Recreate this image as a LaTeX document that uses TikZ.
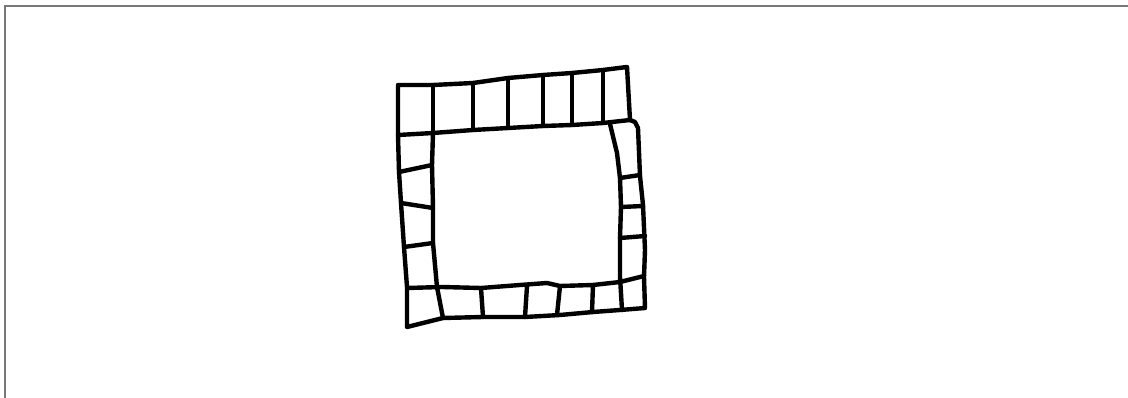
\documentclass[tikz,border=0pt]{standalone}
\usepackage{tikz}
\usetikzlibrary{calc}

\begin{document}
\begin{tikzpicture}[x=1pt, y=-1pt,
  ink/.style={line width=4.4pt, line cap=round, line join=round},
  rim/.style={gray!95!black, line width=2pt}]
\useasboundingbox (0,0) rectangle (1128,398);

% Frame (only top and left edges show)
\draw[rim] (5,398) -- (5,6.5) -- (1128,6.5);

% Outer contour of the ring of squares
\draw[ink] (398,85) -- (433,85) -- (473,83) -- (508,78) -- (543,75) -- (572,73)
  -- (603,70) -- (627,67) -- (630,120) -- (635,122) -- (638,128) -- (640,176)
  -- (643,205) -- (645,250) -- (644,277) -- (645,308) -- (620,310) -- (593,312)
  -- (560,315) -- (525,317) -- (483,317) -- (443,318) -- (407,327)
  -- (407,287) -- (404,247) -- (401,203) -- (399,172) -- (398,135) -- cycle;

% --- Top row ---
\draw[ink] (398,135) -- (433,133) -- (473,130) -- (508,128) -- (543,126)
  -- (572,125) -- (603,123) -- (630,120);
\draw[ink] (433,85) -- (433,133);
\draw[ink] (473,83) -- (473,130);
\draw[ink] (508,78) -- (508,128);
\draw[ink] (543,75) -- (543,126);
\draw[ink] (572,73) -- (572,125);
\draw[ink] (603,70) -- (603,123);

% --- Right column ---
\draw[ink] (610,124) -- (617,153) -- (620,178) -- (621,207) -- (620,238)
  -- (620,277) -- (622,310);
\draw[ink] (620,178) -- (640,175);
\draw[ink] (621,207) -- (643,206);
\draw[ink] (620,238) -- (645,236);

% --- Left column ---
\draw[ink] (433,133) -- (432,165) -- (433,207) -- (433,243) -- (437,287)
  -- (443,318);
\draw[ink] (399,172) -- (432,165);
\draw[ink] (401,203) -- (433,208);
\draw[ink] (404,247) -- (433,243);

% --- Bottom row ---
\draw[ink] (407,288) -- (442,287) -- (481,288) -- (520,285) -- (547,283)
  -- (560,286) -- (593,285) -- (620,282) -- (644,276);
\draw[ink] (481,288) -- (483,317);
\draw[ink] (527,286) -- (525,317);
\draw[ink] (560,286) -- (557,315);
\draw[ink] (593,285) -- (592,312);
\end{tikzpicture}
\end{document}
